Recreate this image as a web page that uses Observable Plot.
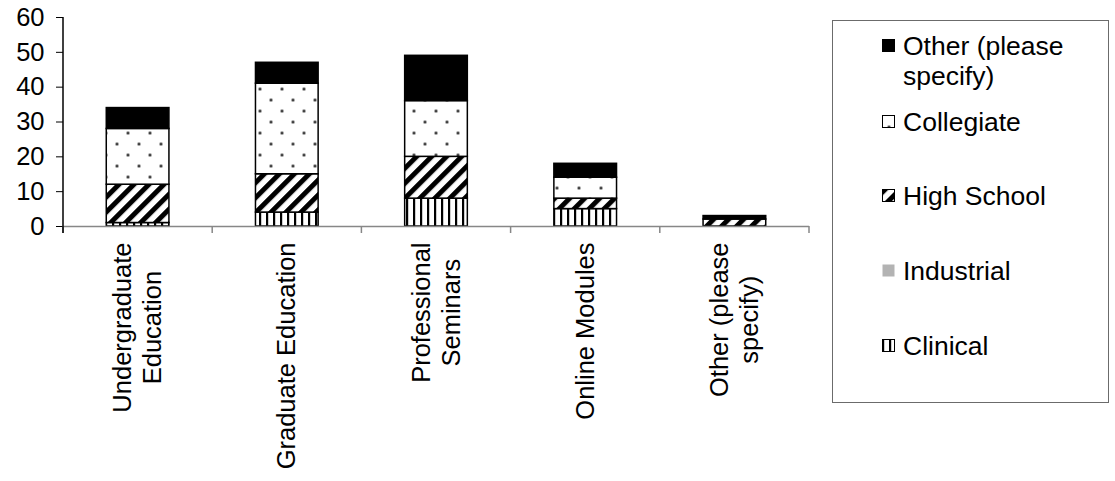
<!DOCTYPE html>
<html>
<head>
<meta charset="utf-8">
<script src="https://cdn.jsdelivr.net/npm/d3@7"></script>
<script src="https://cdn.jsdelivr.net/npm/@observablehq/plot@0.6"></script>
<style>
  html, body { margin: 0; padding: 0; background: #fff; }
  #wrap { position: relative; width: 1115px; height: 481px; overflow: hidden;
          font-family: "Liberation Sans", Arial, sans-serif; color: #000; }
  #legend { position: absolute; left: 832px; top: 20px; width: 277px; height: 383px;
            border: 1px solid #6b6b6b; box-sizing: border-box; }
  .item { position: absolute; left: 49px; font-size: 26.5px; line-height: 30px; }
  .item svg { position: absolute; left: 0; top: 8px; }
  .item span { display: block; margin-left: 21px; white-space: pre; }
</style>
</head>
<body>
<!-- fill patterns shared by the bars and the legend swatches -->
<svg width="0" height="0" style="position:absolute">
  <defs>
    <pattern id="fill-clinical" patternUnits="userSpaceOnUse" width="7" height="7">
      <rect width="7" height="7" fill="#fff"/>
      <rect x="0" width="2.2" height="7" fill="#000"/>
    </pattern>
    <pattern id="fill-highschool" patternUnits="userSpaceOnUse" width="10.6" height="10.6" patternTransform="rotate(45)">
      <rect width="10.6" height="10.6" fill="#fff"/>
      <rect x="0" width="5" height="10.6" fill="#000"/>
    </pattern>
    <pattern id="fill-collegiate" patternUnits="userSpaceOnUse" x="1.5" y="17.5" width="22" height="22">
      <rect width="22" height="22" fill="#fff"/>
      <circle cx="5.5" cy="16.5" r="1.5" fill="#222"/>
      <circle cx="16.5" cy="5.5" r="1.5" fill="#222"/>
    </pattern>
  </defs>
</svg>
<div id="wrap"><div id="legend"></div></div>
<script>
// Training settings (x) and how many respondents chose each setting type
const categories = ["Undergraduate\nEducation", "Graduate Education", "Professional\nSeminars", "Online Modules", "Other (please\nspecify)"];
const series = ["Clinical", "Industrial", "High School", "Collegiate", "Other (please specify)"];
const clinical   = [1, 4, 8, 5, 0];
const industrial = [0, 0, 0, 0, 0];
const highSchool = [11, 11, 12, 3, 2];
const collegiate = [16, 26, 16, 6, 0];
const other      = [6, 6, 13, 4, 1];
const yTicks = [0, 10, 20, 30, 40, 50, 60];

const legendLabels = ["Other (please\nspecify)", "Collegiate", "High School", "Industrial", "Clinical"];

const seriesValues = [clinical, industrial, highSchool, collegiate, other];
const fills = ["url(#fill-clinical)", "#b3b3b3", "url(#fill-highschool)", "url(#fill-collegiate)", "#000"];

const rows = [];
series.forEach((s, i) => categories.forEach((c, j) => rows.push({category: c, series: s, value: seriesValues[i][j]})));

const plot = Plot.plot({
  width: 1115,
  height: 481,
  marginLeft: 63,
  marginRight: 306,
  marginTop: 17,
  marginBottom: 255,
  style: {fontFamily: "'Liberation Sans', Arial, sans-serif", fontSize: "25.5px", color: "#000", background: "transparent", overflow: "visible"},
  x: {domain: categories, paddingInner: 0.58, paddingOuter: 0.29, round: false, label: null,
      tickSize: 0, tickPadding: 16, tickRotate: -90, tickFormat: d => d},
  y: {domain: [0, 60], ticks: yTicks, tickSize: 7, tickPadding: 12, label: null},
  color: {domain: series, range: fills},
  marks: [
    Plot.barY(rows, Plot.stackY({x: "category", y: "value", fill: "series", order: series,
      stroke: "#000", strokeWidth: 1.5})),
    Plot.ruleY([0], {stroke: "#878787", strokeWidth: 1.5})
  ]
});

const wrap = document.getElementById("wrap");
wrap.insertBefore(plot, wrap.firstChild);

const svg = d3.select(plot);
const xs = plot.scale("x");
const ys = plot.scale("y");

// category boundary ticks below the x axis
const step = xs.step ?? ((xs.range[1] - xs.range[0]) / categories.length);
const bw = xs.bandwidth ?? step * (1 - 0.58);
const gap = (step - bw) / 2;
const bounds = categories.map(c => xs.apply(c) - gap).concat([xs.apply(categories[categories.length - 1]) + bw + gap]);
svg.append("g").selectAll("line").data(bounds).join("line")
  .attr("x1", d => d).attr("x2", d => d)
  .attr("y1", ys.apply(0)).attr("y2", ys.apply(0) + 7)
  .attr("stroke", "#878787").attr("stroke-width", 1.5);

// y axis line
svg.append("line")
  .attr("x1", xs.range[0]).attr("x2", xs.range[0])
  .attr("y1", ys.apply(60)).attr("y2", ys.apply(0) + 7)
  .attr("stroke", "#000").attr("stroke-width", 1.5);

// centre each line of the rotated category labels on the longest line,
// with a slightly looser line spacing
const lineHeight = 1.18;
svg.selectAll("g[aria-label='x-axis tick label'] text").each(function() {
  const w = this.getBBox().width;
  this.setAttribute("text-anchor", "middle");
  const spans = this.querySelectorAll("tspan");
  if (spans.length) {
    const n = spans.length;
    spans.forEach((t, k) => {
      t.setAttribute("x", -w / 2);
      t.setAttribute("dy", k === 0 ? `${0.32 - (n - 1) / 2 * lineHeight}em` : `${lineHeight}em`);
      t.removeAttribute("y");
    });
  } else this.setAttribute("x", -w / 2);
});

// legend, top of the stack first
const legend = document.getElementById("legend");
const legendTops = [10, 86, 160, 235, 310];
const legendFills = fills.slice().reverse();
legendLabels.forEach((lab, i) => {
  const div = document.createElement("div");
  div.className = "item";
  div.style.top = legendTops[i] + "px";
  div.innerHTML = `<svg width="13" height="13"><rect x="0.5" y="0.5" width="12" height="12" fill="${legendFills[i]}" stroke="${i === 3 ? "none" : "#000"}" stroke-width="1"/></svg><span></span>`;
  div.querySelector("span").textContent = lab;
  legend.appendChild(div);
});
</script>
</body>
</html>
